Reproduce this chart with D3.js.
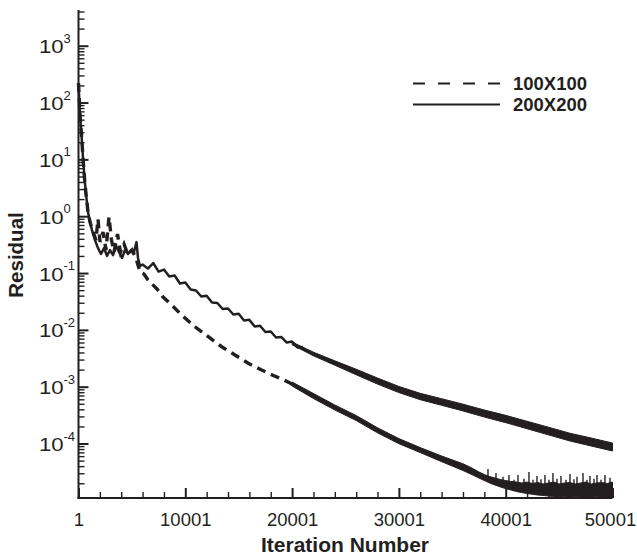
<!DOCTYPE html>
<html>
<head>
<meta charset="utf-8">
<script src="https://cdn.jsdelivr.net/npm/d3@7/dist/d3.min.js"></script>
<style>
  html, body { margin: 0; padding: 0; background: #fff; }
  svg { display: block; font-family: "Liberation Sans", Arial, Helvetica, sans-serif; }
</style>
</head>
<body>
<svg id="chart" width="637" height="556"></svg>
<script>
// ---- Convergence history: residual vs iteration for two grids ----

// 200X200 grid: early history as a single trace
const iter200 = [1, 141, 282, 423, 563, 703, 890, 1078, 1265, 1546, 1827, 2108, 2389, 2670, 2950,
  3231, 3512, 3793, 4074, 4355, 4636, 4917, 5198, 5432, 5572, 5759,
  6000, 6500, 7000, 7500, 8000, 8500, 9000, 9500, 10000, 10500, 11000, 11500, 12000, 12500,
  13000, 13500, 14000, 14500, 15000, 15500, 16000, 16500, 17000, 17500, 18000, 18500, 19000,
  19500, 20000, 20500, 21000];
const res200 = [220, 60, 26.8, 10.6, 4.7, 2.45, 1.19, 0.79, 0.57, 0.38, 0.275, 0.216, 0.275, 0.20, 0.254,
  0.207, 0.30, 0.234, 0.184, 0.254, 0.216, 0.254, 0.234, 0.35, 0.184, 0.133,
  0.141, 0.120, 0.150, 0.106, 0.115, 0.0869, 0.0904, 0.0655, 0.068, 0.0513, 0.0492, 0.0386, 0.040, 0.0303,
  0.0297, 0.0233, 0.0238, 0.0186, 0.0192, 0.0146, 0.0150, 0.01146, 0.0118, 0.00917, 0.00935, 0.00733, 0.00748,
  0.00599, 0.00624, 0.00489, 0.00499];

// 200X200 grid: later history, oscillation band (low / high residual)
const bandIter200 = [20001, 22001, 24001, 26001, 28001, 30001, 32001, 34001, 36001, 38001,
  40001, 42001, 44001, 46001, 48001, 50001];
const bandHi200 = [6.10e-3, 4.05e-3, 2.85e-3, 2.03e-3, 1.42e-3, 1.01e-3, 7.64e-4, 6.15e-4, 4.93e-4, 3.89e-4,
  3.13e-4, 2.46e-4, 1.94e-4, 1.52e-4, 1.25e-4, 1.02e-4];
const bandLo200 = [5.45e-3, 3.49e-3, 2.39e-3, 1.62e-3, 1.11e-3, 7.87e-4, 5.90e-4, 4.70e-4, 3.75e-4, 2.92e-4,
  2.33e-4, 1.82e-4, 1.42e-4, 1.11e-4, 9.04e-5, 7.38e-5];

// 100X100 grid: early history as a single trace
const iter100 = [1, 141, 282, 423, 563, 703, 890, 1078, 1359, 1640, 1827, 2014, 2295, 2576, 2857, 3091,
  3325, 3653, 3934, 4261, 4636, 5010, 5385, 5759, 6134, 6508, 6883, 7351, 7913, 8727, 9663,
  10909, 12154, 13409, 14654, 15899, 17154, 18240, 19055, 19804, 20834];
const res100 = [220, 60, 26.8, 10.6, 4.7, 2.45, 1.19, 0.79, 0.527, 0.381, 0.893, 0.352, 0.527, 0.254, 0.968, 0.381,
  0.234, 0.486, 0.234, 0.324, 0.207, 0.254, 0.184, 0.104, 0.0961, 0.0754, 0.0641, 0.0524, 0.0378, 0.0274, 0.0182,
  0.01135, 0.00757, 0.00505, 0.00361, 0.00258, 0.00196, 0.00157, 0.00136, 0.00116, 0.00091];

// 100X100 grid: later history, oscillation band (low / high residual)
const bandIter100 = [20001, 22001, 24001, 26001, 28001, 30001, 32001, 34001, 36001,
  36501, 37001, 37501, 38001, 38501, 39001, 39501, 40001, 40501, 41001, 41501, 42001, 42501, 43001,
  43501, 44001, 44501, 45001, 45501, 46001, 46501, 47001, 47501, 48001, 48501, 49001, 49501, 50001];
const bandHi100 = [1.208e-3, 7.59e-4, 4.76e-4, 3.11e-4, 1.89e-4, 1.22e-4, 8.47e-5, 6.03e-5, 4.40e-5,
  3.98e-5, 3.56e-5, 3.15e-5, 2.85e-5, 2.62e-5, 2.47e-5, 2.33e-5, 2.23e-5, 2.15e-5, 2.10e-5, 2.02e-5, 2.10e-5,
  1.98e-5, 2.06e-5, 1.94e-5, 2.02e-5, 2.10e-5, 1.94e-5, 2.02e-5, 2.06e-5, 1.94e-5, 2.02e-5, 2.10e-5, 1.94e-5,
  2.02e-5, 2.06e-5, 1.98e-5, 2.10e-5];
const bandLo100 = [1.028e-3, 6.19e-4, 3.89e-4, 2.54e-4, 1.54e-4, 9.93e-5, 6.92e-5, 4.80e-5, 3.35e-5,
  3.03e-5, 2.74e-5, 2.47e-5, 2.23e-5, 2.02e-5, 1.86e-5, 1.72e-5, 1.61e-5, 1.52e-5, 1.43e-5, 1.37e-5, 1.32e-5,
  1.28e-5, 1.24e-5, 1.22e-5, 1.19e-5, 1.17e-5, 1.17e-5, 1.16e-5, 1.15e-5, 1.16e-5, 1.15e-5, 1.15e-5, 1.15e-5,
  1.16e-5, 1.15e-5, 1.15e-5, 1.15e-5];

// 100X100 grid: isolated residual peaks above the oscillation band
const peakIter100 = [37219, 37780, 38342, 38717, 39091, 39747, 40308, 40777, 41151, 41713, 42181, 42556,
  42930, 43305, 43679, 44054, 44428, 44803, 45177, 45645, 46020, 46394, 46675, 47237, 47612, 47892,
  48267, 48548, 48923, 49297, 49765];
const peakRes100 = [3.03e-5, 2.90e-5, 3.56e-5, 2.40e-5, 3.03e-5, 2.60e-5, 2.79e-5, 2.30e-5, 2.79e-5, 2.40e-5,
  3.15e-5, 2.30e-5, 2.68e-5, 2.35e-5, 2.79e-5, 2.30e-5, 3.03e-5, 2.40e-5, 2.68e-5, 2.30e-5, 2.90e-5, 2.35e-5,
  2.60e-5, 3.03e-5, 2.30e-5, 2.68e-5, 2.40e-5, 2.79e-5, 2.30e-5, 2.79e-5, 2.50e-5];

// Axis ticks and labels
const xMajor = [1, 10001, 20001, 30001, 40001, 50001];
const xLabels = ["1", "10001", "20001", "30001", "40001", "50001"];
const yMajor = [1e3, 1e2, 1e1, 1e0, 1e-1, 1e-2, 1e-3, 1e-4];
const yExp = ["3", "2", "1", "0", "-1", "-2", "-3", "-4"];
const seriesNames = ["100X100", "200X200"];

// ---- Drawing ----
const ink = "#231f20";
const svg = d3.select("#chart");

const x = d3.scaleLinear().domain([1, 50001]).range([78.5, 612.5]);
const y = d3.scaleLog().domain([1.1e-5, 4.25e3]).range([498, 10]);

const zip = (a, b) => a.map((v, i) => [v, b[i]]);
const zip3 = (a, lo, hi) => a.map((v, i) => [v, lo[i], hi[i]]);

const line = d3.line().x(d => x(d[0])).y(d => y(d[1]));
const band = d3.area().x(d => x(d[0])).y0(d => y(d[1])).y1(d => y(d[2]));

const plot = svg.append("g");

// 100X100 (dashed)
plot.append("path")
  .attr("d", line(zip(iter100, res100)))
  .attr("fill", "none").attr("stroke", ink)
  .attr("stroke-width", 3.4).attr("stroke-dasharray", "9,6");
plot.append("path")
  .attr("d", band(zip3(bandIter100, bandLo100, bandHi100)))
  .attr("fill", ink).attr("stroke", ink).attr("stroke-width", 1).attr("stroke-linejoin", "round");

// peaks: thin spikes rising from inside the band
const bisect = d3.bisector(d => d).right;
function bandMidPx(it) {
  const j = Math.min(Math.max(bisect(bandIter100, it), 1), bandIter100.length - 1);
  const t = (it - bandIter100[j - 1]) / (bandIter100[j] - bandIter100[j - 1]);
  const lo = y(bandLo100[j - 1]) + t * (y(bandLo100[j]) - y(bandLo100[j - 1]));
  const hi = y(bandHi100[j - 1]) + t * (y(bandHi100[j]) - y(bandHi100[j - 1]));
  return (lo + hi) / 2;
}
plot.append("g").selectAll("line")
  .data(zip(peakIter100, peakRes100))
  .join("line")
  .attr("x1", d => x(d[0])).attr("x2", d => x(d[0]))
  .attr("y1", d => y(d[1])).attr("y2", d => bandMidPx(d[0]))
  .attr("stroke", ink).attr("stroke-width", 1.4);

// 200X200 (solid)
plot.append("path")
  .attr("d", line(zip(iter200, res200)))
  .attr("fill", "none").attr("stroke", ink)
  .attr("stroke-width", 2.5).attr("stroke-linejoin", "round");
plot.append("path")
  .attr("d", band(zip3(bandIter200, bandLo200, bandHi200)))
  .attr("fill", ink).attr("stroke", ink).attr("stroke-width", 1).attr("stroke-linejoin", "round");

// ---- Axes ----
const yMinor = y.ticks().filter(v => !yMajor.some(m => Math.abs(Math.log10(v) - Math.log10(m)) < 1e-6));
const xMinor = d3.range(1, 50002, 2000).filter(v => !xMajor.includes(v));

const gy = svg.append("g").attr("transform", "translate(78.5,0)");
gy.call(d3.axisLeft(y).tickValues(yMinor).tickSize(-6).tickFormat(""));
gy.call(g => g.select(".domain").remove());
gy.append("g").call(d3.axisLeft(y).tickValues(yMajor).tickSize(-10).tickFormat(""))
  .call(g => g.select(".domain").remove());
gy.selectAll(".tick line").attr("stroke", ink).attr("stroke-width", 1.4);
gy.selectAll("g g .tick line").attr("stroke-width", 2);

const gx = svg.append("g").attr("transform", "translate(0,498)");
gx.call(d3.axisBottom(x).tickValues(xMinor).tickSize(-6).tickFormat(""));
gx.call(g => g.select(".domain").remove());
gx.append("g").call(d3.axisBottom(x).tickValues(xMajor).tickSize(-10)
    .tickFormat((d, i) => xLabels[i]).tickPadding(15))
  .call(g => g.select(".domain").remove());
gx.selectAll(".tick line").attr("stroke", ink).attr("stroke-width", 1.4);
gx.selectAll("g g .tick line").attr("stroke-width", 2);
gx.selectAll("text").attr("fill", ink).attr("font-size", 18.5)
  .attr("font-family", "'Liberation Sans', Arial, sans-serif");
gx.selectAll("text").filter((d, i, n) => i === n.length - 1).attr("dx", -2.5);

// axis lines
svg.append("line").attr("x1", 78.5).attr("x2", 78.5).attr("y1", 10).attr("y2", 499)
  .attr("stroke", ink).attr("stroke-width", 2);
svg.append("line").attr("x1", 77.5).attr("x2", 612.5).attr("y1", 498).attr("y2", 498)
  .attr("stroke", ink).attr("stroke-width", 2);

// y tick labels: 10 with superscript exponent
const yl = svg.append("g").attr("fill", ink);
yMajor.forEach((v, i) => {
  const ty = y(v);
  yl.append("text")
    .attr("transform", `translate(39,${ty + 7.5}) scale(1.2,1)`)
    .attr("font-size", 18.5).text("10");
  yl.append("text")
    .attr("x", 63.5).attr("y", ty - 3)
    .attr("font-size", 13).text(yExp[i]);
});

// axis titles
svg.append("text")
  .attr("x", 345).attr("y", 551.5).attr("text-anchor", "middle")
  .attr("font-size", 21).attr("font-weight", "bold").attr("fill", ink)
  .text("Iteration Number");
svg.append("text")
  .attr("transform", "translate(23,255) rotate(-90)").attr("text-anchor", "middle")
  .attr("font-size", 20.5).attr("font-weight", "bold").attr("fill", ink)
  .text("Residual");

// ---- Legend ----
const lg = svg.append("g");
lg.append("line").attr("x1", 413).attr("x2", 500).attr("y1", 83.5).attr("y2", 83.5)
  .attr("stroke", ink).attr("stroke-width", 2).attr("stroke-dasharray", "12,13");
lg.append("line").attr("x1", 413).attr("x2", 500).attr("y1", 104.5).attr("y2", 104.5)
  .attr("stroke", ink).attr("stroke-width", 2);
lg.append("text").attr("x", 513).attr("y", 89.5)
  .attr("font-size", 18.5).attr("font-weight", "bold").attr("fill", ink).text(seriesNames[0]);
lg.append("text").attr("x", 513).attr("y", 110.8)
  .attr("font-size", 18.5).attr("font-weight", "bold").attr("fill", ink).text(seriesNames[1]);
</script>
</body>
</html>
